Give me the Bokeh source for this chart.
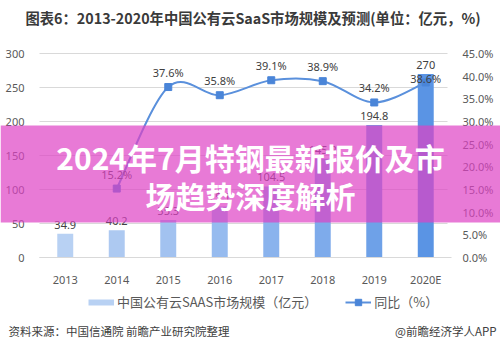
from bokeh.plotting import figure
from bokeh.models import (Range1d, LinearAxis, FixedTicker, PrintfTickFormatter, Grid,
                          Legend, LegendItem, Label, BoxAnnotation, ColumnDataSource)
from bokeh.embed import file_html
from bokeh.resources import INLINE

# ---- data ----
years = ["2013", "2014", "2015", "2016", "2017", "2018", "2019", "2020E"]
market_size = [34.9, 40.2, 55.3, 75.1, 104.5, 145.2, 194.8, 270.0]
growth_years = ["2014", "2015", "2016", "2017", "2018", "2019", "2020E"]
growth_pct = [15.2, 37.6, 35.8, 39.1, 38.9, 34.2, 38.6]
left_ticks = [0, 50, 100, 150, 200, 250, 300]
right_ticks = [0, 5, 10, 15, 20, 25, 30, 35, 40, 45]

# ---- styles ----
bar_colors = ["#b8d1f3", "#adc9f1", "#a2c2f0", "#96bbef", "#8ab3ed", "#7eabeb", "#6ea1e8", "#5a94e4"]
line_color = "#5a90dc"
marker_color = "#4a85d8"
axis_font = "Noto Sans"
cjk = "Noto Sans CJK SC"

# ---- layout (pixels) ----
W, H = 500, 350
PL, PR, PT, PB = 39, 451, 53, 257          # plotting area inside the canvas
ncat = len(years)
upx = (PR - PL) / ncat                      # pixels per category
ymax, pmax = left_ticks[-1], right_ticks[-1]
ypx = (PB - PT) / ymax
ppx = (PB - PT) / pmax

idx = list(range(ncat))
gidx = [years.index(y) for y in growth_years]

# frame covers the whole canvas so that overlay, title and footer are not clipped
p = figure(width=W, height=H, output_backend="svg", toolbar_location=None,
           x_range=Range1d(-0.5 - PL / upx, ncat - 0.5 + (W - PR) / upx),
           y_range=Range1d(-(H - PB) / ypx, ymax + PT / ypx),
           min_border=0, min_border_left=0, min_border_right=0,
           min_border_top=0, min_border_bottom=0,
           background_fill_color="white", border_fill_color="white")
p.outline_line_color = None
p.extra_y_ranges = {"pct": Range1d(-(H - PB) / ppx, pmax + PT / ppx)}

# axes (fixed at the plotting-area edges)
xa = p.xaxis[0]
xa.fixed_location = 0
xa.bounds = (-0.5, ncat - 0.5)
xa.ticker = FixedTicker(ticks=idx)
xa.major_label_overrides = {i: y for i, y in zip(idx, years)}
xa.axis_line_color = "#d9d9d9"
xa.major_tick_line_color = None
xa.minor_tick_line_color = None
xa.major_label_standoff = 8
p.xgrid.grid_line_color = None

ya = p.yaxis[0]
ya.fixed_location = -0.5
ya.ticker = FixedTicker(ticks=left_ticks)
ya.axis_line_color = None
ya.major_tick_line_color = None
ya.minor_tick_line_color = None
ya.major_label_standoff = 9

raxis = LinearAxis(y_range_name="pct", ticker=FixedTicker(ticks=right_ticks),
                   formatter=PrintfTickFormatter(format="%.1f%%"))
raxis.fixed_location = ncat - 0.5
raxis.axis_line_color = None
raxis.major_tick_line_color = None
raxis.minor_tick_line_color = None
raxis.major_label_standoff = 5
p.add_layout(raxis, "right")

for ax in [xa, ya, raxis]:
    ax.major_label_text_font = axis_font
    ax.major_label_text_font_size = "11px"
    ax.major_label_text_color = "#595959"

yg = p.ygrid[0]
yg.ticker = FixedTicker(ticks=left_ticks)
yg.grid_line_color = "#d9d9d9"
if "cross_bounds" in Grid.properties():
    yg.cross_bounds = (-0.5, ncat - 0.5 - 0.08)
else:
    yg.grid_line_color = None
    p.segment(x0=[-0.5] * len(left_ticks), x1=[ncat - 0.58] * len(left_ticks),
              y0=left_ticks, y1=left_ticks, line_color="#d9d9d9", line_width=1, level="underlay")

# bars
bsrc = ColumnDataSource(dict(x=idx, top=market_size, color=bar_colors,
                             lab=[("%g" % v) for v in market_size]))
p.vbar(x="x", top="top", width=0.31, fill_color="color", line_color=None, source=bsrc)
p.text(x="x", y="top", text="lab", source=bsrc, text_align="center", text_baseline="bottom",
       y_offset=-5, text_font_size="11px", text_color="#404040", text_font={"value": axis_font})

# smoothed line (Catmull-Rom bezier between consecutive data points)
gx = gidx
gy = growth_pct
n = len(gx)
x0, y0, x1, y1, cx0, cy0, cx1, cy1 = [], [], [], [], [], [], [], []
for i in range(n - 1):
    pm = i - 1 if i > 0 else i
    pp = i + 2 if i + 2 < n else i + 1
    x0.append(gx[i]); y0.append(gy[i]); x1.append(gx[i + 1]); y1.append(gy[i + 1])
    cx0.append(gx[i] + (gx[i + 1] - gx[pm]) / 6.0)
    cy0.append(gy[i] + (gy[i + 1] - gy[pm]) / 6.0)
    cx1.append(gx[i + 1] - (gx[pp] - gx[i]) / 6.0)
    cy1.append(gy[i + 1] - (gy[pp] - gy[i]) / 6.0)
p.bezier(x0=x0, y0=y0, x1=x1, y1=y1, cx0=cx0, cy0=cy0, cx1=cx1, cy1=cy1,
         line_color=line_color, line_width=2, y_range_name="pct")
sc = p.scatter(x=gx, y=gy, marker="square", size=7, fill_color=marker_color,
               line_color=marker_color, y_range_name="pct")
plabs = ["%.1f%%" % v for v in gy]
p.text(x=gx[:-1], y=gy[:-1], text=plabs[:-1], y_range_name="pct", text_align="center",
       text_baseline="bottom", y_offset=-7, text_font_size="11px", text_color="#404040",
       text_font={"value": axis_font})
p.text(x=gx[-1:], y=gy[-1:], text=plabs[-1:], y_range_name="pct", text_align="center",
       text_baseline="middle", y_offset=-4, text_font_size="11px", text_color="#404040",
       text_font={"value": axis_font})

# legend (proxy renderers for swatch styles; NaN data draws nothing on the chart)
nan = float("nan")
bar_proxy = p.line(x=[nan], y=[nan], line_color=bar_colors[0], line_width=6, line_cap="butt")
line_proxy = p.line(x=[nan], y=[nan], line_color=line_color, line_width=2)
legend = Legend(items=[LegendItem(label="中国公有云SAAS市场规模（亿元）", renderers=[bar_proxy]),
                       LegendItem(label="同比（%）", renderers=[line_proxy, sc])],
                orientation="horizontal", location=(88, 39), glyph_width=26, glyph_height=16,
                label_standoff=3, spacing=28, padding=0, margin=0,
                border_line_color=None, background_fill_alpha=0,
                label_text_font=cjk, label_text_font_size="13px", label_text_color="#595959")
p.add_layout(legend)

# title and footer
p.add_layout(Label(x=25, y=17, x_units="canvas", y_units="canvas",
                   text="图表6：2013-2020年中国公有云SaaS市场规模及预测(单位：亿元，%)",
                   text_font=cjk, text_font_size="14.3px", text_font_style="bold",
                   text_color="#3a3a3a", text_baseline="middle"))
p.add_layout(Label(x=8, y=330, x_units="canvas", y_units="canvas",
                   text="资料来源：中国信通院 前瞻产业研究院整理",
                   text_font=cjk, text_font_size="11.5px", text_color="#404040", text_baseline="middle"))
p.add_layout(Label(x=496, y=330, x_units="canvas", y_units="canvas",
                   text="@前瞻经济学人APP", text_align="right",
                   text_font=cjk, text_font_size="11.5px", text_color="#404040", text_baseline="middle"))

# pink overlay band with headline
p.add_layout(BoxAnnotation(left=0, right=W, top=125, bottom=222,
                           left_units="canvas", right_units="canvas",
                           top_units="canvas", bottom_units="canvas",
                           fill_color="#de41c4", fill_alpha=0.7, line_color=None, level="overlay"))
for txt, yy in [("2024年7月特钢最新报价及市", 156), ("场趋势深度解析", 194)]:
    p.add_layout(Label(x=W / 2, y=yy, x_units="canvas", y_units="canvas", text=txt,
                       text_align="center", text_baseline="middle", text_font=cjk,
                       text_font_size="30px", text_font_style="bold", text_color="white",
                       level="overlay"))

open("out.html", "w").write(file_html(p, INLINE))
